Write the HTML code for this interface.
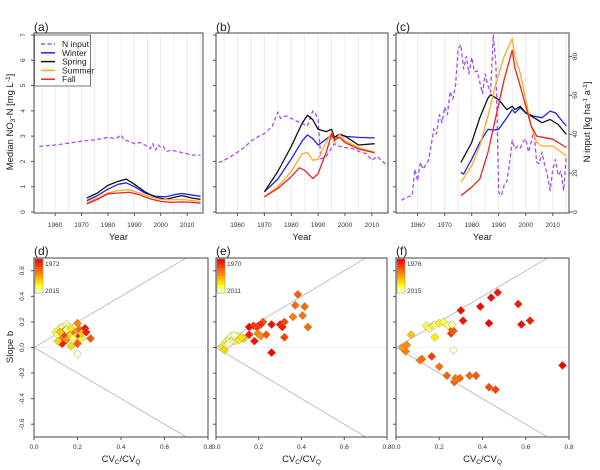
<!DOCTYPE html>
<html><head><meta charset="utf-8"><style>
body{margin:0;background:#fff}
svg{display:block;font-family:"Liberation Sans",sans-serif}
</style></head><body>
<svg id="chart" width="600" height="470" viewBox="0 0 600 470" xmlns="http://www.w3.org/2000/svg"></svg>
<script>
// ---- Top panels data ----
const aInputYears=[1954,1960,1965,1970,1975,1980,1983,1985,1986,1988,1990,1992,1994,1996,1997,1998,1999,2000,2001,2002,2004,2006,2008,2010,2012,2015];
const aInputVals=[2.6,2.65,2.72,2.8,2.85,2.95,2.9,3.05,2.85,2.8,2.7,2.75,2.65,2.5,2.7,2.45,2.65,2.55,2.6,2.4,2.45,2.4,2.35,2.3,2.25,2.25];
const aWinterYears=[1972,1976,1980,1984,1987,1990,1994,1998,2002,2006,2008,2010,2015];
const aWinterVals=[0.45,0.65,0.9,1.1,1.15,1.0,0.75,0.62,0.6,0.7,0.73,0.7,0.62];
const aSpringYears=[1972,1976,1980,1984,1987,1990,1994,1998,2002,2006,2008,2012,2015];
const aSpringVals=[0.55,0.75,1.05,1.22,1.3,1.1,0.8,0.58,0.5,0.6,0.65,0.55,0.5];
const aSummerYears=[1972,1976,1980,1984,1988,1992,1996,2000,2004,2008,2012,2015];
const aSummerVals=[0.38,0.55,0.75,0.85,0.88,0.75,0.6,0.5,0.48,0.5,0.45,0.42];
const aFallYears=[1972,1976,1980,1984,1988,1992,1996,2000,2004,2008,2012,2015];
const aFallVals=[0.32,0.5,0.72,0.75,0.78,0.68,0.52,0.42,0.38,0.4,0.38,0.35];

const bInputYears=[1953,1956,1960,1963,1965,1968,1970,1973,1975,1976,1978,1980,1982,1984,1986,1988,1989,1990,1991,1993,1996,1998,2000,2003,2005,2008,2010,2012,2013,2015];
const bInputVals=[1.95,2.1,2.36,2.6,2.8,3.0,3.1,3.4,3.95,3.7,3.8,3.7,3.6,3.5,3.4,4.0,3.9,3.65,2.1,2.2,2.7,2.6,2.55,2.5,2.4,2.3,2.05,2.2,2.1,1.9];
const bSpringYears=[1970,1975,1980,1984,1986,1988,1990,1993,1995,1996,1998,2000,2005,2011];
const bSpringVals=[0.8,1.6,2.6,3.5,3.83,3.65,3.27,3.18,3.27,2.95,3.08,3.0,2.65,2.7];
const bWinterYears=[1970,1975,1980,1984,1986,1988,1990,1992,1995,1996,1998,2000,2005,2011];
const bWinterVals=[0.8,1.3,2.1,2.8,3.05,2.9,2.65,2.8,3.05,2.8,3.08,2.99,2.95,2.93];
const bSummerYears=[1970,1975,1980,1984,1986,1988,1990,1992,1995,1996,1998,2000,2005,2011];
const bSummerVals=[0.6,1.0,1.6,2.3,2.35,2.05,2.08,2.55,3.15,2.73,3.08,2.82,2.55,2.36];
const bFallYears=[1970,1975,1980,1983,1985,1988,1990,1993,1995,1996,1998,2000,2005,2011];
const bFallVals=[0.6,0.93,1.4,1.75,1.65,1.32,1.52,2.36,3.08,2.88,2.95,2.75,2.49,2.34];

const cInputYears=[1954,1956,1958,1959,1960,1961,1962,1964,1965,1966,1967,1968,1969,1970,1971,1972,1973,1974,1975,1976,1977,1978,1979,1980,1981,1982,1983,1984,1985,1986,1987,1988,1989,1990,1991,1992,1993,1994,1995,1996,1997,1998,1999,2000,2001,2002,2003,2004,2005,2006,2007,2008,2009,2010,2011,2012,2013,2014,2015];
const cInputVals=[6,7.7,8.5,22,16,25.6,22,26.5,34,42.7,40,50,46,54,50,62,58,65,84,86,73.5,80,71,79.5,72,72.6,66.7,60.7,71,65,61.5,91,75,10,8.5,13.7,15.4,24.8,36.8,32.5,34,33,36,37.6,30.8,36,41.9,25.6,24.8,30.8,24,18.8,11,22,27,18.8,21,11,29];
const cSpringYears=[1976,1980,1983,1986,1987,1990,1993,1995,1996,1998,2000,2003,2006,2009,2012,2015];
const cSpringVals=[1.96,2.75,3.73,4.5,4.64,4.44,4.05,4.18,4.05,4.18,3.92,3.73,3.53,3.66,3.46,3.07];
const cWinterYears=[1976,1977,1980,1983,1986,1988,1990,1993,1995,1996,1998,2000,2003,2006,2009,2011,2015];
const cWinterVals=[1.57,1.5,2.09,2.75,3.27,3.24,3.27,3.73,4.05,3.92,4.12,3.92,3.79,3.73,3.99,3.92,3.4];
const cSummerYears=[1976,1980,1983,1986,1989,1992,1995,1996,1998,2000,2002,2004,2006,2010,2015];
const cSummerVals=[1.18,1.83,2.61,3.79,5.1,6.14,6.86,6.14,5.49,4.44,3.4,2.75,2.61,2.61,2.22];
const cFallYears=[1976,1980,1983,1986,1989,1992,1995,1996,1998,2000,2002,2004,2007,2010,2015];
const cFallVals=[0.65,0.98,1.31,2.35,3.79,5.23,6.4,5.69,4.97,4.18,3.4,3.0,2.94,2.88,2.55];

const yearTicks=[1960,1970,1980,1990,2000,2010];
const no3Ticks=[0,1,2,3,4,5,6,7];
const inputTicks=[0,20,40,60,80];

// ---- Bottom panels data (x = CVC/CVQ, y = slope b, year) ----
const dX=[0.10,0.11,0.12,0.13,0.14,0.15,0.16,0.12,0.13,0.14,0.15,0.13,0.16,0.17,0.18,0.19,0.20,0.20,0.21,0.21,0.20,0.22,0.22,0.235,0.24,0.26,0.17,0.20,0.18,0.11,0.12,0.15,0.17];
const dY=[0.12,0.10,0.15,0.16,0.13,0.18,0.16,0.04,0.07,0.10,0.06,0.03,0.12,0.10,0.13,0.08,0.19,0.13,0.14,0.09,0.03,0.07,0.11,0.15,0.12,0.07,0.01,-0.05,0.07,0.05,0.12,0.14,0.15];
const dYear=[2006,2012,2008,2010,1990,2014,2013,1995,1988,1980,1992,1974,1985,2003,1987,2005,1990,1994,1986,1976,1984,2007,1999,1973,1975,1983,2002,2015,2009,2001,1998,2011,2004];
const eX=[0.383,0.371,0.415,0.405,0.43,0.36,0.32,0.30,0.31,0.32,0.26,0.26,0.22,0.21,0.20,0.19,0.175,0.155,0.155,0.18,0.195,0.21,0.235,0.13,0.03,0.04,0.05,0.06,0.07,0.08,0.09,0.10,0.11,0.07,0.05,0.04,0.06,0.12,0.085];
const eY=[0.415,0.33,0.32,0.25,0.16,0.24,0.20,0.18,0.16,0.08,0.18,-0.04,0.20,0.18,0.17,0.16,0.17,0.16,0.10,0.05,0.11,0.09,0.10,0.07,0.01,0.03,0.05,0.06,0.09,0.07,0.05,0.09,0.06,0.04,0.02,-0.02,0.03,0.08,0.095];
const eYear=[1982,1983,1984,1985,1984,1986,1979,1972,1973,1978,1971,1970,1980,1974,1972,1975,1977,1970,1973,1971,1987,1988,1981,1995,2000,2003,2005,2006,2010,2004,2002,2007,2001,2009,2008,1998,2011,1999,2010];
const fX=[0.47,0.44,0.565,0.39,0.30,0.31,0.43,0.58,0.62,0.77,0.26,0.255,0.265,0.165,0.14,0.155,0.17,0.18,0.20,0.22,0.24,0.26,0.18,0.265,0.07,0.03,0.05,0.045,0.11,0.12,0.20,0.235,0.27,0.28,0.275,0.295,0.34,0.37,0.43,0.46];
const fY=[0.43,0.39,0.34,0.32,0.29,0.21,0.19,0.18,0.21,-0.14,0.14,0.11,0.13,-0.07,0.17,0.15,0.17,0.18,0.19,0.20,0.17,0.18,0.08,-0.02,0.10,0.0,0.02,-0.03,-0.10,-0.09,-0.15,-0.22,-0.27,-0.25,-0.24,-0.24,-0.22,-0.22,-0.31,-0.33];
const fYear=[1978,1977,1979,1976,1977,1978,1976,1977,1979,1976,1984,1982,1986,1983,2008,2010,2007,2012,2006,2009,2011,2013,2005,2015,2000,1995,1993,1991,1990,1989,1990,1988,1987,1986,1990,1988,1989,1987,1985,1984];
const slopeTicks=[0.6,0.4,0.2,0,-0.2,-0.4,-0.6];
const cvTicks=[0,0.2,0.4,0.6,0.8];

const NS="http://www.w3.org/2000/svg";
const svg=document.getElementById('chart');
function mk(tag,attrs,parent){const e=document.createElementNS(NS,tag);for(const k in attrs)e.setAttribute(k,attrs[k]);(parent||svg).appendChild(e);return e;}
function txt(x,y,s,size,opts,parent){const t=mk('text',Object.assign({x:x,y:y,'font-size':size,fill:'#222'},opts||{}),parent);t.textContent=s;return t;}

const TOP=[{id:'a',x0:34,x1:203},{id:'b',x0:216,x1:388},{id:'c',x0:396,x1:569}];
const TY0=212,TY1=35;
function ty(v){return TY0+(TY1-TY0)*v/7;}
function mkX(p){return y=>p.x0+(p.x1-p.x0)*(y-1952)/(2016-1952);}
const inputScale=7/91;

function line(px,py,xs,ys,color,dash,name,g,w){
  let d='';xs.forEach((x,i)=>{d+=(i?'L':'M')+px(x).toFixed(1)+','+py(ys[i]).toFixed(1);});
  const p=mk('path',{d:d,fill:'none',stroke:color,'stroke-width':w||1.3,'stroke-linejoin':'round'},g);
  if(dash)p.setAttribute('stroke-dasharray',dash);
  
  
}
const COL={input:'#a550f0',winter:'#2222ee',spring:'#111',summer:'#ffaa22',fall:'#ee2222'};
const topData={
 a:{iy:aInputYears,iv:aInputVals,scale:1,s:[[aWinterYears,aWinterVals,'winter'],[aSpringYears,aSpringVals,'spring'],[aSummerYears,aSummerVals,'summer'],[aFallYears,aFallVals,'fall']]},
 b:{iy:bInputYears,iv:bInputVals,scale:1,s:[[bWinterYears,bWinterVals,'winter'],[bSpringYears,bSpringVals,'spring'],[bSummerYears,bSummerVals,'summer'],[bFallYears,bFallVals,'fall']]},
 c:{iy:cInputYears,iv:cInputVals,scale:inputScale,s:[[cWinterYears,cWinterVals,'winter'],[cSpringYears,cSpringVals,'spring'],[cSummerYears,cSummerVals,'summer'],[cFallYears,cFallVals,'fall']]}
};
TOP.forEach(p=>{
  const g=mk('g',{});
  
  
  const px=mkX(p);
  for(let y=1955;y<=2015;y+=5){mk('line',{x1:px(y),x2:px(y),y1:TY1-1,y2:TY0+1,stroke:'#ececec','stroke-width':1},g);}
  const D=topData[p.id];
  line(px,v=>ty(v*D.scale),D.iy,D.iv,COL.input,'4,2.5','n-input-line-'+p.id,g,1.3);
  D.s.forEach(s=>line(px,ty,s[0],s[1],COL[s[2]],null,s[2]+'-line-'+p.id,g,1.3));
  mk('rect',{x:p.x0,y:TY1-2,width:p.x1-p.x0,height:TY0-TY1+3,fill:'none',stroke:'#555','stroke-width':1.1},g);
  yearTicks.forEach(y=>{mk('line',{x1:px(y),x2:px(y),y1:TY0+1,y2:TY0+4,stroke:'#555'},g);
    const t=txt(px(y),227,String(y),6.5,{'text-anchor':'middle',fill:'#333'},g);
    });
  no3Ticks.forEach(v=>{mk('line',{x1:p.x0-3,x2:p.x0,y1:ty(v),y2:ty(v),stroke:'#555'},g);
    if(p.id==='a'){const t=txt(25,ty(v),String(v),6.5,{'text-anchor':'middle',fill:'#333',transform:'rotate(-90 25 '+ty(v)+')'},g);
      }});
  const xl=txt((p.x0+p.x1)/2,240,'Year',9.5,{'text-anchor':'middle'},g);
  
  const pl=txt(p.x0,31,'('+p.id+')',12,{},g);
  
  if(p.id==='c'){
    inputTicks.forEach(v=>{const yy=ty(v*inputScale);mk('line',{x1:p.x1,x2:p.x1+3,y1:yy,y2:yy,stroke:'#555'},g);
      const t=txt(577,yy,String(v),6.5,{'text-anchor':'middle',fill:'#333',transform:'rotate(-90 577 '+yy+')'},g);
      });
  }
});
// axis titles
{
const t=mk('text',{x:0,y:0,'font-size':9.5,fill:'#222','text-anchor':'middle',transform:'translate(13,122) rotate(-90)'});
t.innerHTML='Median NO<tspan font-size="6.5" dy="2">3</tspan><tspan dy="-2">-N [mg L</tspan><tspan font-size="6.5" dy="-3">-1</tspan><tspan dy="3">]</tspan>';

const r=mk('text',{x:0,y:0,'font-size':9.5,fill:'#222','text-anchor':'middle',transform:'translate(590,122) rotate(-90)'});
r.innerHTML='N input [kg ha<tspan font-size="6.5" dy="-3">-1</tspan><tspan dy="3"> a</tspan><tspan font-size="6.5" dy="-3">-1</tspan><tspan dy="3">]</tspan>';

}
// legend
{
const g=mk('g',{});

mk('rect',{x:34.5,y:35,width:56,height:51,fill:'#fff',stroke:'#555','stroke-width':0.8},g);
const items=[['N input','input'],['Winter','winter'],['Spring','spring'],['Summer','summer'],['Fall','fall']];
items.forEach((it,i)=>{const y=44+i*8.8;
  const l=mk('line',{x1:41,x2:55,y1:y,y2:y,stroke:COL[it[1]],'stroke-width':1.5},g);
  if(i===0)l.setAttribute('stroke-dasharray','4,2.5');
  const t=txt(62,y+3,it[0],8.5,{},g);
  });
}
// ---- bottom panels ----
const BOT=[{id:'d',x0:34,x1:208,X:dX,Y:dY,Yr:dYear,y0:1972,y1:2015},{id:'e',x0:216,x1:387,X:eX,Y:eY,Yr:eYear,y0:1970,y1:2011},{id:'f',x0:396,x1:569,X:fX,Y:fY,Yr:fYear,y0:1976,y1:2015}];
const BY0=437,BY1=258;
function by(v){return BY0+(BY1-BY0)*(v+0.7)/1.4;}
function heat(t){t=Math.max(0,Math.min(1,t));const g=Math.round(Math.min(1,t*1.25)*255);const b=Math.round(Math.max(0,(t-0.75)*4)*210);return 'rgb(255,'+g+','+b+')';}
BOT.forEach(p=>{
  const g=mk('g',{});
  
  const bx=v=>p.x0+(p.x1-p.x0)*v/0.8;
  mk('line',{x1:p.x0,x2:p.x1,y1:by(0),y2:by(0),stroke:'#eee','stroke-width':1},g);
  mk('line',{x1:bx(0),y1:by(0),x2:bx(0.7),y2:by(0.7),stroke:'#bbb','stroke-width':0.9},g);
  mk('line',{x1:bx(0),y1:by(0),x2:bx(0.7),y2:by(-0.7),stroke:'#bbb','stroke-width':0.9},g);
  p.X.forEach((x,i)=>{const cx=bx(x),cy=by(p.Y[i]),s=4.2;
    const d=mk('path',{d:'M'+cx+','+(cy-s)+'L'+(cx+s)+','+cy+'L'+cx+','+(cy+s)+'L'+(cx-s)+','+cy+'Z',fill:heat((p.Yr[i]-p.y0)/(p.y1-p.y0)),stroke:'#999','stroke-width':0.5},g);
    });
  mk('rect',{x:p.x0,y:BY1,width:p.x1-p.x0,height:BY0-BY1,fill:'none',stroke:'#555','stroke-width':1.1},g);
  cvTicks.forEach(v=>{mk('line',{x1:bx(v),x2:bx(v),y1:BY0,y2:BY0+3,stroke:'#555'},g);
    const t=txt(bx(v),449,v.toFixed(1),6.5,{'text-anchor':'middle',fill:'#333'},g);
    });
  slopeTicks.forEach(v=>{mk('line',{x1:p.x0-3,x2:p.x0,y1:by(v),y2:by(v),stroke:'#555'},g);
    if(p.id==='d'){const t=txt(24,by(v),v.toFixed(1),6.5,{'text-anchor':'middle',fill:'#333',transform:'rotate(-90 24 '+by(v)+')'},g);
      }});
  const xl=mk('text',{x:(p.x0+p.x1)/2,y:462,'font-size':9.5,fill:'#222','text-anchor':'middle'},g);
  xl.innerHTML='CV<tspan font-size="6.5" dy="2">C</tspan><tspan dy="-2">/CV</tspan><tspan font-size="6.5" dy="2">Q</tspan>';
  
  const pl=txt(p.x0,255,'('+p.id+')',12,{},g);
  
  // colour bar
  const cb=mk('g',{},g);
  
  for(let k=0;k<17;k++){mk('rect',{x:p.x0+1,y:BY1+1+k*2,width:8,height:2.2,fill:heat(k/16),stroke:'none'},cb);}
  mk('rect',{x:p.x0+1,y:BY1+1,width:8,height:34,fill:'none',stroke:'#888','stroke-width':0.5},cb);
  txt(p.x0+11,BY1+8,String(p.y0),6.5,{fill:'#333'},cb);
  txt(p.x0+11,BY1+35,String(p.y1),6.5,{fill:'#333'},cb);
});
{
const t=txt(0,0,'Slope b',9.5,{'text-anchor':'middle',transform:'translate(13,347) rotate(-90)'});

}
</script>
</body></html>
